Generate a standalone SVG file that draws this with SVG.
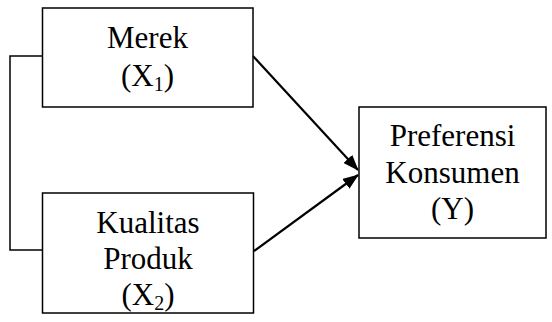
<svg xmlns="http://www.w3.org/2000/svg" width="552" height="322" viewBox="0 0 552 322">
<style>
.box{fill:#fff;stroke:#000;stroke-width:1.5}
.t{font-family:"Liberation Serif","Times New Roman",serif;font-size:31px;fill:#000;text-anchor:middle}
.sub{font-size:20px}
.ln{fill:none;stroke:#000;stroke-width:1.5}
.ar{fill:none;stroke:#000;stroke-width:2.2}
</style>
<defs>
<marker id="ah" markerWidth="16" markerHeight="12" refX="15" refY="6" orient="auto" markerUnits="userSpaceOnUse">
<path d="M0,0 L16,6 L0,12 Z" fill="#000"/>
</marker>
</defs>
<g id="connectors">
<polyline class="ln" points="42,56 10,56 10,250 44,250"/>
<line class="ar" x1="253" y1="56" x2="358" y2="170" marker-end="url(#ah)"/>
<line class="ar" x1="254" y1="251" x2="358" y2="175" marker-end="url(#ah)"/>
</g>
<g id="merek">
<rect class="box" x="42.5" y="8" width="210.5" height="99"/>
<text class="t" x="147.5" y="48">Merek</text>
<text class="t" x="147.5" y="86">(X<tspan class="sub" dy="5">1</tspan><tspan dy="-5">)</tspan></text>
</g>
<g id="kualitas">
<rect class="box" x="42.5" y="193" width="211" height="120"/>
<text class="t" x="148" y="233">Kualitas</text>
<text class="t" x="148" y="269">Produk</text>
<text class="t" x="148" y="305">(X<tspan class="sub" dy="5">2</tspan><tspan dy="-5">)</tspan></text>
</g>
<g id="preferensi">
<rect class="box" x="359" y="107" width="187" height="131"/>
<text class="t" x="452.5" y="146">Preferensi</text>
<text class="t" x="452.5" y="183">Konsumen</text>
<text class="t" x="452.5" y="219">(Y)</text>
</g>
</svg>
